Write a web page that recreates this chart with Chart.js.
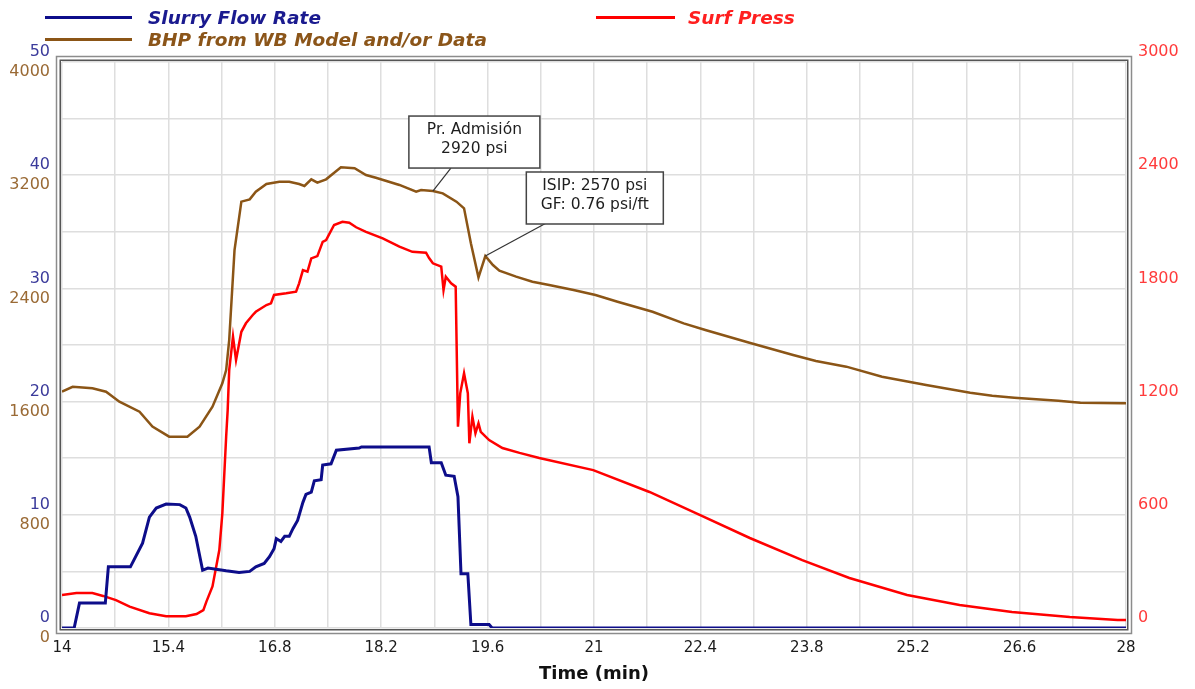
<!DOCTYPE html>
<html>
<head>
<meta charset="utf-8">
<script src="https://cdn.jsdelivr.net/npm/chart.js@4.4.1/dist/chart.umd.min.js"></script>
<style>
  html, body { margin: 0; padding: 0; background: #fff; }
  #wrap { position: relative; width: 1195px; height: 689px; overflow: hidden; }
  #legend { position: absolute; left: 45px; top: 6px; display: grid; grid-template-columns: 551px auto;
            font-family: "DejaVu Sans", sans-serif; font-weight: bold; font-style: italic; font-size: 18.5px; }
  .li { display: flex; align-items: center; height: 22px; white-space: nowrap; }
  .sw { height: 3px; }
</style>
</head>
<body>
<div id="wrap">
  <canvas id="c" width="1195" height="689"></canvas>
  <div id="legend"></div>
</div>
<script>
// ---------------- data ----------------
const seriesNames = ['Slurry Flow Rate', 'Surf Press', 'BHP from WB Model and/or Data'];

const flowTime = [14.0, 14.16, 14.23, 14.57, 14.61, 14.90, 15.06, 15.15, 15.24, 15.37, 15.55, 15.63, 15.68, 15.76, 15.85, 15.92,
  16.16, 16.33, 16.47, 16.55, 16.66, 16.73, 16.79, 16.82, 16.88, 16.93, 16.99, 17.04, 17.10, 17.17, 17.21, 17.28, 17.32,
  17.41, 17.43, 17.54, 17.61, 17.91, 17.94, 18.83, 18.86, 18.99, 19.05, 19.16, 19.21, 19.25, 19.34, 19.38, 19.62, 19.66, 28.0];
const flowRate = [0, 0, 2.2, 2.2, 5.4, 5.4, 7.5, 9.8, 10.6, 10.95, 10.9, 10.6, 9.8, 8.1, 5.1, 5.3,
  5.05, 4.9, 5.0, 5.4, 5.7, 6.3, 7.0, 7.9, 7.65, 8.1, 8.1, 8.8, 9.5, 11.1, 11.8, 12.0, 13.0,
  13.1, 14.4, 14.5, 15.7, 15.9, 16.0, 16.0, 14.6, 14.6, 13.5, 13.4, 11.6, 4.8, 4.8, 0.3, 0.3, 0, 0];

const bhpTime = [14.00, 14.14, 14.40, 14.58, 14.755, 15.02, 15.19, 15.41, 15.65, 15.81, 15.98, 16.11, 16.16, 16.20, 16.27,
  16.36, 16.47, 16.55, 16.69, 16.86, 16.99, 17.12, 17.19, 17.28, 17.36, 17.475, 17.67, 17.85, 18.00, 18.13, 18.44, 18.66,
  18.725, 18.88, 19.01, 19.19, 19.29, 19.38, 19.48, 19.57, 19.67, 19.755, 19.975, 20.19, 20.41, 20.73, 21.02, 21.31,
  21.77, 22.18, 22.465, 23.045, 23.62, 23.92, 24.32, 24.79, 25.37, 25.95, 26.24, 26.53, 27.11, 27.40, 27.95, 28.0];
const bhpValue = [1670, 1705, 1694, 1670, 1599, 1529, 1423, 1352, 1352, 1423, 1564, 1729, 1823, 2035, 2671,
  3013, 3029, 3083, 3138, 3154, 3154, 3138, 3124, 3171, 3147, 3171, 3256, 3249, 3201, 3182, 3131, 3083,
  3095, 3088, 3072, 3013, 2966, 2719, 2478, 2629, 2565, 2525, 2483, 2447, 2424, 2389, 2353, 2306,
  2235, 2153, 2106, 2016, 1929, 1887, 1847, 1776, 1717, 1663, 1642, 1628, 1606, 1592, 1588, 1588];

const pressTime = [14.00, 14.19, 14.40, 14.54, 14.71, 14.89, 15.15, 15.37, 15.63, 15.77, 15.86, 15.90, 15.98, 16.07, 16.11,
  16.16, 16.18, 16.20, 16.25, 16.29, 16.36, 16.42, 16.51, 16.55, 16.69, 16.75, 16.79, 16.95, 17.08, 17.12, 17.17, 17.23,
  17.28, 17.36, 17.43, 17.475, 17.58, 17.69, 17.78, 17.87, 18.00, 18.22, 18.44, 18.61, 18.79, 18.83, 18.88, 18.99, 19.02,
  19.05, 19.12, 19.18, 19.21, 19.24, 19.29, 19.34, 19.36, 19.40, 19.44, 19.48, 19.51, 19.62, 19.795, 20.02, 20.28, 20.99,
  21.73, 22.39, 23.05, 23.74, 24.36, 25.12, 25.81, 26.50, 27.26, 27.89, 28.0];
const pressValue = [175, 185, 185, 170, 148, 113, 78, 62, 62, 74, 95, 140, 220, 413, 608,
  1014, 1155, 1367, 1544, 1420, 1570, 1615, 1659, 1676, 1712, 1721, 1765, 1774, 1783, 1827, 1897, 1889,
  1959, 1971, 2047, 2056, 2136, 2153, 2148, 2124, 2100, 2065, 2021, 1994, 1989, 1961, 1933, 1915, 1791,
  1862, 1827, 1809, 1067, 1244, 1350, 1244, 979, 1120, 1032, 1085, 1040, 996, 954, 928, 901, 837,
  721, 599, 477, 360, 265, 175, 122, 85, 58, 42, 42];

const timeTicks = [14, 15.4, 16.8, 18.2, 19.6, 21, 22.4, 23.8, 25.2, 26.6, 28];
const flowTicks = [0, 10, 20, 30, 40, 50];
const bhpTicks = [0, 800, 1600, 2400, 3200, 4000];
const pressTicks = [0, 600, 1200, 1800, 2400, 3000];

const calloutTimes = [18.88, 19.57];
const calloutTexts = [['Pr. Admisión', '2920 psi'], ['ISIP: 2570 psi', 'GF: 0.76 psi/ft']];

// ---------------- style ----------------
const lineColors = ['#0d0d8a', '#ff0000', '#8b5516'];
const legendTextColors = ['#1a1a8f', '#ff1f1f', '#8b5519'];
const legendSwatch = [{ w: 87, gap: 16 }, { w: 79, gap: 13 }, { w: 87, gap: 16 }];
const calloutBoxes = [
  { dx: -24, dy: -75, w: 131, h: 52, lx: 18, ly: -23 },
  { dx: 41, dy: -84, w: 137, h: 52, lx: 61, ly: -33 }
];
const FONT = '"DejaVu Sans", sans-serif';

const zip = (xs, ys) => xs.map((x, i) => ({ x: x, y: ys[i] }));
const near = (arr, v) => arr.some(a => Math.abs(a - v) < 1e-6);

// the flow axis has zero width (it shares the left gutter with the BHP axis);
// widen its label area after layout so its labels are not clipped away
const sharedGutterPlugin = {
  id: 'sharedGutter',
  afterLayout(chart) {
    const f = chart.scales.yFlow, b = chart.scales.yBhp;
    f.left = b.left;
  }
};

const framePlugin = {
  id: 'frame',
  afterDraw(chart) {
    const { ctx, chartArea: a } = chart;
    ctx.save();
    ctx.lineWidth = 1.5;
    ctx.strokeStyle = '#8c8c8c';
    ctx.strokeRect(a.left - 5.5, a.top - 5.5, a.right - a.left + 11, a.bottom - a.top + 11);
    ctx.strokeStyle = '#555555';
    ctx.strokeRect(a.left - 1.75, a.top - 1.75, a.right - a.left + 3.5, a.bottom - a.top + 3.5);
    ctx.restore();
  }
};

const calloutPlugin = {
  id: 'callouts',
  afterDatasetsDraw(chart) {
    const { ctx } = chart;
    const xs = chart.scales.x, ys = chart.scales.yBhp;
    ctx.save();
    calloutTimes.forEach((t, i) => {
      const idx = bhpTime.indexOf(t);
      const ax = xs.getPixelForValue(t);
      const ay = ys.getPixelForValue(bhpValue[idx]);
      const b = calloutBoxes[i];
      ctx.strokeStyle = '#333';
      ctx.lineWidth = 1.2;
      ctx.beginPath();
      ctx.moveTo(ax + b.lx, ay + b.ly);
      ctx.lineTo(ax, ay);
      ctx.stroke();
      const bx = ax + b.dx, by = ay + b.dy;
      ctx.fillStyle = '#ffffff';
      ctx.fillRect(bx, by, b.w, b.h);
      ctx.strokeStyle = '#444';
      ctx.lineWidth = 1.5;
      ctx.strokeRect(bx, by, b.w, b.h);
      ctx.fillStyle = '#1e1e1e';
      ctx.font = '15.5px ' + FONT;
      ctx.textAlign = 'center';
      ctx.textBaseline = 'middle';
      calloutTexts[i].forEach((line, k) => {
        ctx.fillText(line, bx + b.w / 2, by + 14 + k * 19);
      });
    });
    ctx.restore();
  }
};

const xLabelOffset = c => {
  if (!c || !c.tick) return 0;
  const v = c.tick.value;
  if (Math.abs(v - 14) < 1e-6) return 8;
  if (Math.abs(v - 28) < 1e-6) return -8;
  return 0;
};

const chart = new Chart(document.getElementById('c'), {
  type: 'line',
  data: {
    datasets: [
      { label: seriesNames[0], data: zip(flowTime, flowRate), yAxisID: 'yFlow',
        borderColor: lineColors[0], borderWidth: 3, pointRadius: 0, tension: 0, fill: false },
      { label: seriesNames[1], data: zip(pressTime, pressValue), yAxisID: 'yPsi',
        borderColor: lineColors[1], borderWidth: 2.5, pointRadius: 0, tension: 0, fill: false },
      { label: seriesNames[2], data: zip(bhpTime, bhpValue), yAxisID: 'yBhp',
        borderColor: lineColors[2], borderWidth: 2.5, pointRadius: 0, tension: 0, fill: false }
    ]
  },
  options: {
    responsive: false,
    animation: false,
    devicePixelRatio: 1,
    layout: { padding: { top: 62, left: 0, right: 0, bottom: 0 } },
    plugins: { legend: { display: false }, tooltip: { enabled: false } },
    scales: {
      x: {
        type: 'linear', position: 'bottom', min: 14, max: 28,
        afterFit: s => { s.height = 61; },
        border: { display: false },
        grid: { color: '#dedede', lineWidth: 1.5, drawTicks: false },
        ticks: {
          stepSize: 0.7, autoSkip: false, maxRotation: 0, padding: 11,
          color: '#1a1a1a', font: { family: FONT, size: 15 },
          labelOffset: xLabelOffset,
          callback: v => { const r = Math.round(v * 10) / 10; return near(timeTicks, r) ? String(r) : ''; }
        },
        title: { display: true, text: 'Time (min)', color: '#111', padding: { top: 0, bottom: 4 },
                 font: { family: FONT, size: 18, weight: 'bold' } }
      },
      yBhp: {
        type: 'linear', position: 'left', weight: 1, min: 0, max: 4000,
        afterFit: s => { s.width = 62; },
        border: { display: false },
        grid: { display: false, drawTicks: false },
        ticks: {
          stepSize: 400, autoSkip: false, padding: 12, labelOffset: 10,
          color: '#9a6a35', font: { family: FONT, size: 16 },
          callback: v => (near(bhpTicks, v) ? String(v) : '')
        }
      },
      yFlow: {
        type: 'linear', position: 'left', weight: 0, min: 0, max: 50,
        afterFit: s => { s.width = 0; },
        border: { display: false },
        grid: { color: '#dedede', lineWidth: 1.5, drawTicks: false },
        ticks: {
          stepSize: 5, autoSkip: false, padding: 12, labelOffset: -10,
          color: '#3b3b9b', font: { family: FONT, size: 16 },
          callback: v => (near(flowTicks, v) ? String(v) : '')
        }
      },
      yPsi: {
        type: 'linear', position: 'right', min: 0, max: 3000,
        afterFit: s => { s.width = 69; },
        border: { display: false },
        grid: { display: false, drawTicks: false },
        ticks: {
          stepSize: 300, autoSkip: false, padding: 12, labelOffset: -10,
          color: '#ff3b3b', font: { family: FONT, size: 16 },
          callback: v => (near(pressTicks, v) ? String(v) : '')
        }
      }
    }
  },
  plugins: [sharedGutterPlugin, framePlugin, calloutPlugin]
});

// HTML legend built from the chart's datasets
const legendEl = document.getElementById('legend');
chart.data.datasets.forEach((ds, i) => {
  const item = document.createElement('div');
  item.className = 'li';
  const sw = document.createElement('span');
  sw.className = 'sw';
  sw.style.background = ds.borderColor;
  sw.style.width = legendSwatch[i].w + 'px';
  sw.style.marginRight = legendSwatch[i].gap + 'px';
  const tx = document.createElement('span');
  tx.textContent = ds.label;
  tx.style.color = legendTextColors[i];
  item.appendChild(sw);
  item.appendChild(tx);
  legendEl.appendChild(item);
});
</script>
</body>
</html>
